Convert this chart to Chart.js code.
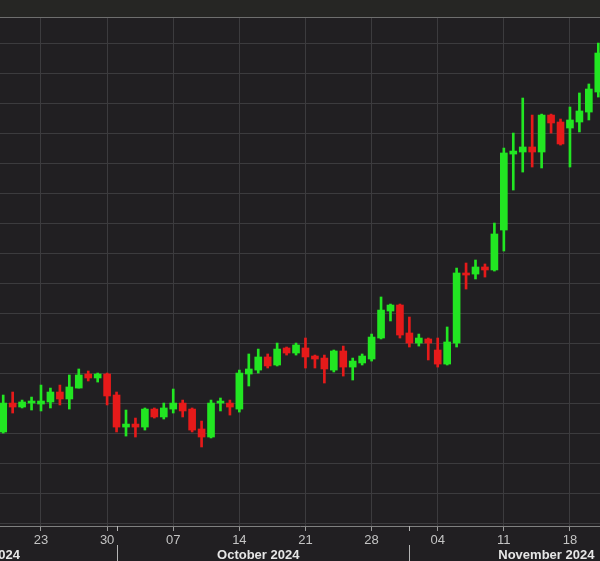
<!DOCTYPE html>
<html>
<head>
<meta charset="utf-8">
<script src="https://cdn.jsdelivr.net/npm/chart.js@4.4.0/dist/chart.umd.min.js"></script>
<style>
html,body{margin:0;padding:0;background:#211f22;overflow:hidden}
#wrap{width:600px;height:561px;position:relative}
</style>
</head>
<body>
<div id="wrap"><canvas id="c" width="600" height="561"></canvas></div>
<script>
// ---- data (daily candles, incl. weekends) ----
const dates = [
 '2024-09-19','2024-09-20','2024-09-21','2024-09-22','2024-09-23','2024-09-24','2024-09-25','2024-09-26','2024-09-27','2024-09-28','2024-09-29','2024-09-30',
 '2024-10-01','2024-10-02','2024-10-03','2024-10-04','2024-10-05','2024-10-06','2024-10-07','2024-10-08','2024-10-09','2024-10-10','2024-10-11','2024-10-12','2024-10-13','2024-10-14','2024-10-15','2024-10-16','2024-10-17','2024-10-18','2024-10-19','2024-10-20','2024-10-21','2024-10-22','2024-10-23','2024-10-24','2024-10-25','2024-10-26','2024-10-27','2024-10-28','2024-10-29','2024-10-30','2024-10-31',
 '2024-11-01','2024-11-02','2024-11-03','2024-11-04','2024-11-05','2024-11-06','2024-11-07','2024-11-08','2024-11-09','2024-11-10','2024-11-11','2024-11-12','2024-11-13','2024-11-14','2024-11-15','2024-11-16','2024-11-17','2024-11-18','2024-11-19','2024-11-20','2024-11-21'
];
const open = [62610,65020,64690,65020,64940,65110,65940,65360,66270,67440,67110,67440,
 65690,63020,63270,63020,64520,63860,64520,65020,64520,62860,62190,65020,65020,64520,67440,67770,68860,68190,69610,69190,69610,68940,68770,67770,69360,68020,68360,68690,70440,72690,73190,
 70860,70020,70360,69440,68270,70020,75860,75770,76360,76110,79440,85770,85940,86360,85940,89020,88440,87940,88440,89270,90940];
const high = [65690,65940,65270,65520,66520,66270,66520,67360,67860,67690,67520,67520,
 65940,64440,63770,64610,64610,65020,66190,65270,64610,63520,65270,65440,65270,67770,69110,69520,69110,70020,69690,70020,70440,69020,69020,69440,69770,68770,69110,70770,73860,73270,73270,
 72190,70770,70440,70440,71360,76270,76690,76940,76610,80020,86270,87520,90440,89020,89100,89100,88690,89690,90860,91610,95020];
const low = [62520,64190,64610,64440,64360,64610,64860,64520,66270,66860,66770,64860,
 62610,62270,62190,62770,63770,63690,64190,63860,62610,61360,62110,64360,64020,64270,66440,67520,67940,68110,69020,69020,67940,67940,66690,67610,67270,66940,68190,68520,70360,71860,70440,
 69690,69770,68610,68020,68190,69690,74520,75360,75520,76020,77690,82770,84270,84690,84610,87520,86520,84690,87610,88610,90520];
const close = [65020,64690,65110,65190,65190,65940,65360,66360,67360,67110,67440,65610,
 63020,63270,63020,64520,63860,64610,65020,64360,62770,62190,65020,65110,64690,67520,67860,68860,68110,69520,69190,69860,68860,68690,67860,69360,68020,68520,68940,70520,72770,73190,70690,
 70020,70440,70020,68270,70110,75860,75690,76360,76110,79110,85860,86020,86360,85940,89020,88360,86610,88610,89360,91190,94190];

const weekTicks = ['2024-09-23','2024-09-30','2024-10-07','2024-10-14','2024-10-21','2024-10-28','2024-11-04','2024-11-11','2024-11-18'];
const weekLabels = ['23','30','07','14','21','28','04','11','18'];
const yTicks = [55000,57500,60000,62500,65000,67500,70000,72500,75000,77500,80000,82500,85000,87500,90000,92500,95000];
const monthNames = ['September 2024','October 2024','November 2024'];
const monthMids = ['2024-09-15T12:00','2024-10-16T00:00','2024-11-15T12:00'];
const monthStarts = ['2024-10-01','2024-11-01'];

// ---- helpers ----
const DAY = 86400000;
const t0 = Date.parse(dates[0] + 'T00:00');
const dayIndex = s => (Date.parse(s.length > 10 ? s : s + 'T00:00') - t0) / DAY;

const UP = '#22e622', DOWN = '#e61a1a';
const colorOf = i => (close[i] >= open[i] ? UP : DOWN);

const bodies = dates.map((d, i) => ({x: dayIndex(d), y: [open[i], close[i]]}));
const wicks = dates.map((d, i) => ({x: dayIndex(d), y: [low[i], high[i]]}));

const FONT = "'Liberation Sans', Arial, sans-serif";

const decor = {
  id: 'decor',
  beforeDraw(chart) {
    const {ctx, chartArea} = chart;
    ctx.save();
    ctx.fillStyle = '#211f22';
    ctx.fillRect(0, 0, chart.width, chart.height);
    ctx.fillStyle = '#262624';
    ctx.fillRect(0, 0, chart.width, chartArea.top);
    ctx.restore();
  },
  afterDraw(chart) {
    const {ctx, chartArea} = chart;
    const xs = chart.scales.x;
    ctx.save();
    // top border of plot
    ctx.strokeStyle = '#6e6e6e';
    ctx.lineWidth = 1;
    ctx.beginPath();
    ctx.moveTo(0, Math.round(chartArea.top) - 0.5);
    ctx.lineTo(chart.width, Math.round(chartArea.top) - 0.5);
    ctx.stroke();
    // month separators and their ticks
    ctx.strokeStyle = '#b4b4b4';
    monthStarts.forEach(s => {
      const px = Math.round(xs.getPixelForValue(dayIndex(s))) + 0.5;
      ctx.beginPath();
      ctx.moveTo(px, chartArea.bottom);
      ctx.lineTo(px, chartArea.bottom + 5);
      ctx.moveTo(px, chartArea.bottom + 19);
      ctx.lineTo(px, chart.height);
      ctx.stroke();
    });
    // month labels
    ctx.fillStyle = '#e6e6e6';
    ctx.font = 'bold 13px ' + FONT;
    ctx.textAlign = 'center';
    ctx.textBaseline = 'middle';
    monthNames.forEach((m, k) => {
      const px = xs.getPixelForValue(dayIndex(monthMids[k]));
      ctx.fillText(m, px, chartArea.bottom + 29);
    });
    ctx.restore();
  }
};

new Chart(document.getElementById('c'), {
  type: 'bar',
  data: {
    datasets: [
      {
        label: 'body',
        data: bodies,
        backgroundColor: ctx => colorOf(ctx.dataIndex),
        barThickness: 7,
        minBarLength: 2,
        grouped: false,
        borderWidth: 0,
        borderSkipped: false
      },
      {
        label: 'wick',
        data: wicks,
        backgroundColor: ctx => colorOf(ctx.dataIndex),
        barThickness: 2,
        grouped: false,
        borderWidth: 0,
        borderSkipped: false
      }
    ]
  },
  options: {
    responsive: false,
    animation: false,
    devicePixelRatio: 1,
    layout: {padding: {top: 18, left: 0, right: 0, bottom: 0}},
    plugins: {legend: {display: false}, tooltip: {enabled: false}},
    scales: {
      x: {
        type: 'linear',
        min: -0.34,
        max: 63.18,
        offset: false,
        afterBuildTicks: s => { s.ticks = weekTicks.map(d => ({value: dayIndex(d)})); },
        afterFit: s => { s.height = 35; },
        ticks: {
          autoSkip: false,
          maxRotation: 0,
          padding: 2,
          color: '#c4c4c4',
          font: {family: FONT, size: 13},
          callback: (v, i) => weekLabels[i]
        },
        grid: {
          color: '#3c3b3e',
          lineWidth: 1,
          offset: false,
          drawTicks: true,
          tickLength: 5,
          tickColor: '#9a9a9a'
        },
        border: {display: true, color: '#808080', width: 1}
      },
      y: {
        type: 'linear',
        min: 54775,
        max: 97108,
        afterBuildTicks: s => { s.ticks = yTicks.map(v => ({value: v})); },
        afterFit: s => { s.width = 0; },
        ticks: {display: false},
        grid: {color: '#3c3b3e', lineWidth: 1, drawTicks: false},
        border: {display: false}
      }
    }
  },
  plugins: [decor]
});
</script>
</body>
</html>
